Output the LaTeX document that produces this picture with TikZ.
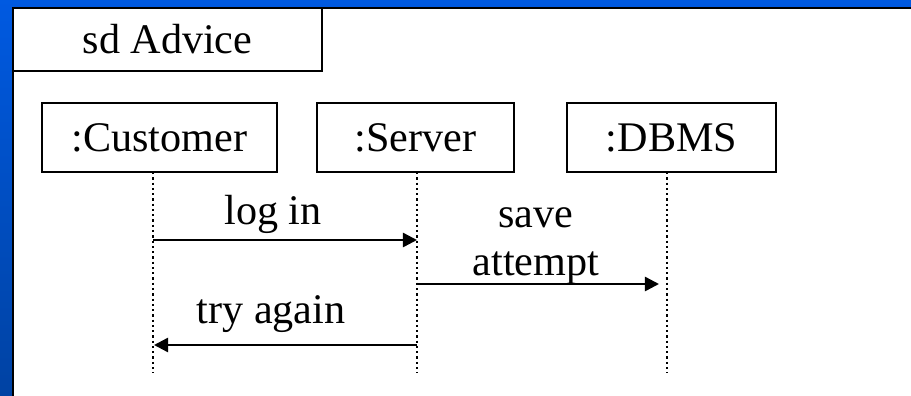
\documentclass[tikz,border=0pt]{standalone}
\usepackage{fontspec}
\setmainfont{Liberation Serif}
\usetikzlibrary{arrows.meta}
\definecolor{bgtop}{RGB}{0,90,226}
\definecolor{bgbot}{RGB}{0,66,162}

\begin{document}
\begin{tikzpicture}[x=0.02cm,y=-0.02cm,font=\fontsize{24}{28}\selectfont,
  obj/.style={draw,line width=1.4pt,fill=white,inner sep=0pt,minimum height=1.38cm},
  life/.style={line width=1.4pt,dash pattern=on 1.3pt off 1.7pt},
  msg/.style={line width=1.4pt,-{Triangle[length=8pt,width=8pt]}},
  lbl/.style={anchor=base,inner sep=0pt}]
  \useasboundingbox (0,0) rectangle (911,395);
  % hintergrund + rahmen
  \shade[top color=bgtop,bottom color=bgbot] (-5,-5) rectangle (916,400);
  \fill[white] (13,8) rectangle (920,405);
  \draw[line width=1.5pt] (13,405) -- (13,8) -- (920,8);
  \node[obj,minimum width=6.18cm,minimum height=1.26cm] (tab) at (167.5,39.5) {sd Advice};
  % objekte
  \node[obj,minimum width=4.7cm] (cust) at (159.5,137.5) {:Customer};
  \node[obj,minimum width=3.94cm] (serv) at (415.5,137.5) {:Server};
  \node[obj,minimum width=4.18cm] (dbms) at (671.5,137.5) {:DBMS};
  % lebenslinien
  \coordinate (c0) at (153,172); \coordinate (c1) at (153,373);
  \coordinate (s0) at (417,172); \coordinate (s1) at (417,373);
  \coordinate (d0) at (667,172); \coordinate (d1) at (667,373);
  \draw[life] (c0) -- (c1);
  \draw[life] (s0) -- (s1);
  \draw[life] (d0) -- (d1);
  % nachrichten
  \coordinate (m1a) at (153,240); \coordinate (m1b) at (417,240);
  \coordinate (m2a) at (417,284); \coordinate (m2b) at (659,284);
  \coordinate (m3a) at (417,345); \coordinate (m3b) at (154,345);
  \draw[msg] (m1a) -- (m1b);
  \draw[msg] (m2a) -- (m2b);
  \draw[msg] (m3a) -- (m3b);
  \node[lbl] (login) at (273,224) {log in};
  \node[lbl] (save) at (536,227) {save};
  \node[lbl] (attempt) at (536,275) {attempt};
  \node[lbl] (again) at (271,323) {try again};
\end{tikzpicture}
\end{document}
